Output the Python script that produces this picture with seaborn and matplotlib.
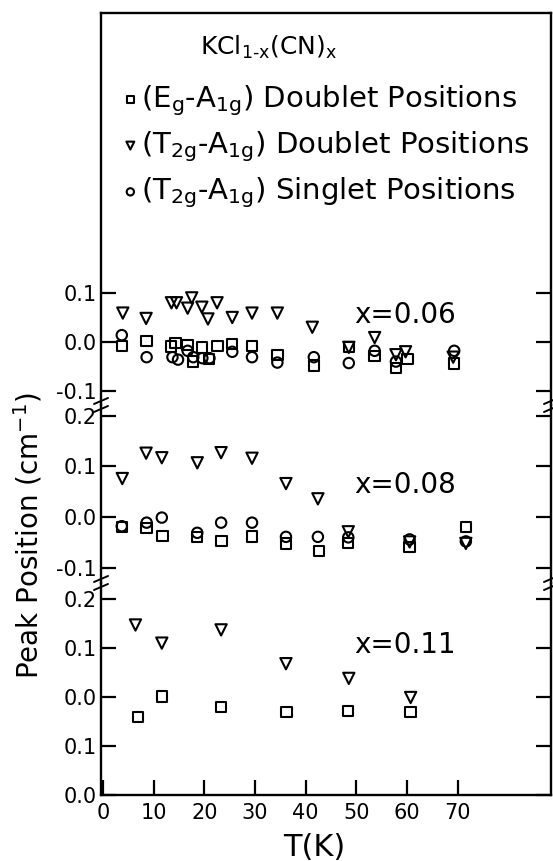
import matplotlib
matplotlib.use("Agg")
import matplotlib.pyplot as plt
from matplotlib.lines import Line2D
from matplotlib.ticker import FixedLocator, FixedFormatter
import seaborn as sns
import numpy as np

sns.set_style("white")
plt.rcParams['font.family'] = ['DejaVu Sans']
plt.rcParams['mathtext.default'] = 'regular'
plt.rcParams['text.color'] = 'black'
plt.rcParams['axes.labelcolor'] = 'black'
plt.rcParams['xtick.color'] = 'black'
plt.rcParams['ytick.color'] = 'black'

# ---------------- data ----------------
series_labels = [
    r'(E$_g$-A$_{1g}$) Doublet Positions',
    r'(T$_{2g}$-A$_{1g}$) Doublet Positions',
    r'(T$_{2g}$-A$_{1g}$) Singlet Positions',
]
legend_title = r'KCl$_{1\text{-}x}$(CN)$_x$'
panel_labels = ['x=0.06', 'x=0.08', 'x=0.11']

# x = 0.06
T06_E = [3.7, 8.6, 13.4, 14.3, 16.7, 17.8, 19.5, 20.9, 22.6, 25.5, 29.4, 34.4, 41.6, 48.5, 53.6, 57.8, 60.1, 69.3]
v06_E = [-0.008, 0.002, -0.009, -0.002, -0.006, -0.040, -0.011, -0.035, -0.008, -0.004, -0.008, -0.026, -0.048, -0.010, -0.028, -0.053, -0.035, -0.044]
T06_T = [3.9, 8.5, 13.5, 14.5, 16.7, 17.5, 19.5, 20.7, 22.5, 25.5, 29.4, 34.4, 41.3, 48.5, 53.6, 57.8, 59.7, 69.1]
v06_T = [0.059, 0.048, 0.080, 0.080, 0.069, 0.090, 0.071, 0.047, 0.080, 0.050, 0.059, 0.059, 0.030, -0.011, 0.009, -0.026, -0.020, -0.031]
T06_S = [3.7, 8.6, 13.7, 14.8, 16.7, 17.8, 19.6, 21.0, 25.5, 29.4, 34.4, 41.6, 48.5, 53.6, 57.8, 69.3]
v06_S = [0.014, -0.031, -0.031, -0.036, -0.018, -0.031, -0.033, -0.033, -0.020, -0.031, -0.042, -0.031, -0.043, -0.018, -0.040, -0.018]

# x = 0.08
T08_E = [3.7, 8.6, 11.7, 18.6, 23.4, 29.4, 36.1, 42.6, 48.4, 60.5, 71.6]
v08_E = [-0.019, -0.022, -0.037, -0.039, -0.047, -0.038, -0.052, -0.067, -0.051, -0.059, -0.019]
T08_T = [3.8, 8.5, 11.6, 18.6, 23.3, 29.4, 36.1, 42.4, 48.4, 60.5, 71.6]
v08_T = [0.076, 0.126, 0.117, 0.107, 0.127, 0.116, 0.066, 0.036, -0.029, -0.049, -0.052]
T08_S = [3.7, 8.6, 11.6, 18.6, 23.3, 29.4, 36.1, 42.4, 48.4, 60.5, 71.6]
v08_S = [-0.018, -0.011, -0.001, -0.031, -0.011, -0.011, -0.039, -0.039, -0.040, -0.044, -0.048]

# x = 0.11
T11_E = [6.9, 11.6, 23.3, 36.2, 48.4, 60.7]
v11_E = [-0.041, 0.001, -0.020, -0.031, -0.029, -0.031]
T11_T = [6.4, 11.6, 23.3, 36.1, 48.5, 60.7]
v11_T = [0.147, 0.110, 0.137, 0.068, 0.038, -0.001]

x_ticks = [0, 10, 20, 30, 40, 50, 60, 70]
x_ticklabels = ['0', '10', '20', '30', '40', '50', '60', '70']
top_yticks = [-0.1, 0.0, 0.1]
top_yticklabels = ['-0.1', '0.0', '0.1']
mid_yticks = [-0.1, 0.0, 0.1, 0.2]
mid_yticklabels = ['-0.1', '0.0', '0.1', '0.2']
bot_yticks = [-0.2, -0.1, 0.0, 0.1, 0.2]
bot_yticklabels = ['0.0', '0.1', '0.0', '0.1', '0.2']

# ---------------- figure ----------------
W_PX, H_PX = 553, 861
fig = plt.figure(figsize=(W_PX / 100, H_PX / 100), dpi=100)

def fy(p):
    return 1 - p / H_PX

L, R = 101 / W_PX, 551 / W_PX
ax_top = fig.add_axes([L, fy(405), R - L, fy(13) - fy(405)])
ax_mid = fig.add_axes([L, fy(583), R - L, fy(405) - fy(583)])
ax_bot = fig.add_axes([L, fy(795), R - L, fy(583) - fy(795)])

marker_kw = dict(color='black', facecolor='none', edgecolor='black', linewidth=1.5)
styles = [('s', 56), ('v', 66), ('o', 56)]

def draw(ax, Ts, vs, idxs):
    for T, v, i in zip(Ts, vs, idxs):
        m, s = styles[i]
        sns.scatterplot(x=T, y=v, ax=ax, marker=m, s=s, label=series_labels[i],
                        legend=False, zorder=3, clip_on=False, **marker_kw)

draw(ax_top, [T06_E, T06_T, T06_S], [v06_E, v06_T, v06_S], [0, 1, 2])
draw(ax_mid, [T08_E, T08_T, T08_S], [v08_E, v08_T, v08_S], [0, 1, 2])
draw(ax_bot, [T11_E, T11_T], [v11_E, v11_T], [0, 1])

ylims = {ax_top: (-0.1286, 0.6714), ax_mid: (-0.130, 0.221), ax_bot: (-0.2, 0.2327)}
yt = {ax_top: (top_yticks, top_yticklabels), ax_mid: (mid_yticks, mid_yticklabels),
      ax_bot: (bot_yticks, bot_yticklabels)}

for ax in (ax_top, ax_mid, ax_bot):
    ax.set_xlim(-0.4, 88.4)
    ax.set_ylim(*ylims[ax])
    ax.set_facecolor('none')
    ticks, labels = yt[ax]
    ax.yaxis.set_major_locator(FixedLocator(ticks))
    ax.yaxis.set_major_formatter(FixedFormatter(labels))
    ax.tick_params(axis='y', direction='in', length=11, width=1.6, left=True, right=True,
                   labelleft=True, labelright=False, labelsize=15, pad=3,
                   colors='black', labelcolor='black')
    for sp in ax.spines.values():
        sp.set_linewidth(1.7)
        sp.set_color('black')
    ax.set_xlabel('')
    ax.set_ylabel('')

ax_top.spines['bottom'].set_visible(False)
ax_mid.spines['bottom'].set_visible(False)
ax_mid.spines['top'].set_visible(False)
ax_bot.spines['top'].set_visible(False)
for ax in (ax_top, ax_mid):
    ax.tick_params(axis='x', bottom=False, top=False, labelbottom=False)

ax_bot.xaxis.set_major_locator(FixedLocator(x_ticks))
ax_bot.xaxis.set_major_formatter(FixedFormatter(x_ticklabels))
ax_bot.tick_params(axis='x', direction='in', length=11, width=1.6, bottom=True, top=False,
                   labelsize=15, pad=6, colors='black', labelcolor='black')

# panel annotations
ax_top.text(49.6, 0.055, panel_labels[0], fontsize=20, ha='left', va='center', color='black')
ax_mid.text(49.6, 0.063, panel_labels[1], fontsize=20, ha='left', va='center', color='black')
ax_bot.text(49.6, 0.106, panel_labels[2], fontsize=20, ha='left', va='center', color='black')

# legend
handles = ax_top.collections[:3]
leg = ax_top.legend(handles, series_labels, loc='upper left', bbox_to_anchor=(0.049, 0.821),
                    frameon=False, fontsize=21, markerscale=0.7, handlelength=0.5,
                    handletextpad=0.12, labelspacing=0.40, borderpad=0, borderaxespad=0)
for t in leg.get_texts():
    t.set_color('black')
ax_top.text(0.22, 0.912, legend_title, transform=ax_top.transAxes, fontsize=18,
            ha='left', va='center', color='black')

# axis labels
fig.text(28 / W_PX, fy(536), 'Peak Position (cm$^{-1}$)', rotation=90, fontsize=20,
         ha='center', va='center', color='black')
fig.text(314 / W_PX, fy(847), 'T(K)', fontsize=22, ha='center', va='center', color='black')

# break marks on both vertical spines
for xpx in (101, 551):
    for ypx in (583, 405):
        for dy in (-4, 4):
            x0, x1 = (xpx - 7) / W_PX, (xpx + 7) / W_PX
            y0, y1 = fy(ypx + dy + 3), fy(ypx + dy - 3)
            fig.add_artist(Line2D([x0, x1], [y0, y1], color='black', lw=1.4))

fig.savefig('out.png', dpi=100)
